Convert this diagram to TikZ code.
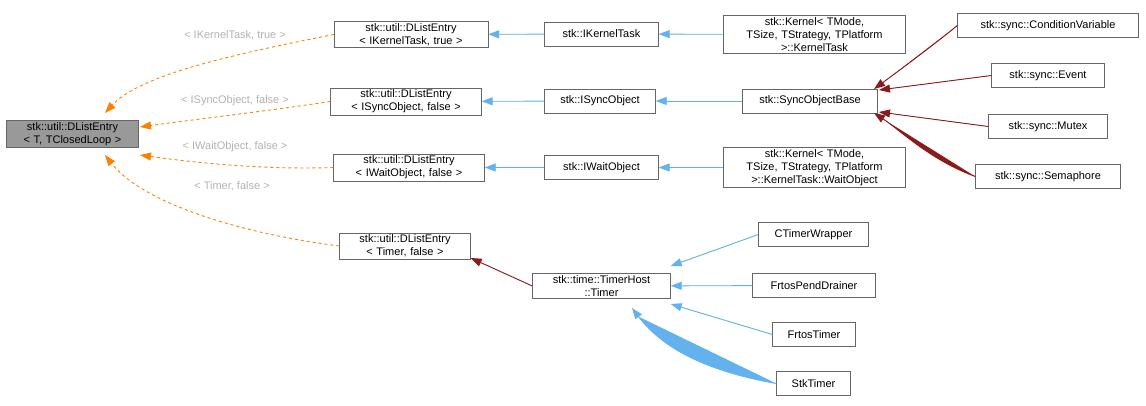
\documentclass[tikz,border=0pt]{standalone}
\usepackage{fontspec}
\setmainfont{Liberation Sans}
\usetikzlibrary{arrows.meta}
\begin{document}
\begin{tikzpicture}[x=1pt,y=-1pt,
  box/.style={draw=black!60,fill=white,inner sep=2pt,align=center,font=\fontsize{11}{13}\selectfont,minimum height=24pt},
  ah/.style={-{Triangle[length=11pt,width=8pt]}},
  blue/.style={draw={rgb,255:red,99;green,177;blue,237},fill={rgb,255:red,99;green,177;blue,237},ah,line width=0.9pt},
  red/.style={draw={rgb,255:red,139;green,26;blue,26},fill={rgb,255:red,139;green,26;blue,26},ah,line width=0.9pt},
  orng/.style={draw=orange,dashed,line width=0.9pt,-{Triangle[length=11pt,width=8pt,fill=orange]}},
  lbl/.style={text=black!30,font=\fontsize{11}{13}\selectfont}]
\useasboundingbox (0,0) rectangle (1146,405);
\node[box,fill=black!40,text width=128pt] (A) at (72.5,134) {stk::util::DListEntry\\\textless{} T, TClosedLoop \textgreater};
\node[box,text width=150pt] (B1) at (411,34.5) {stk::util::DListEntry\\\textless{} IKernelTask, true \textgreater};
\node[box,text width=147pt] (B2) at (406,101.5) {stk::util::DListEntry\\\textless{} ISyncObject, false \textgreater};
\node[box,text width=147pt] (B3) at (409,167.5) {stk::util::DListEntry\\\textless{} IWaitObject, false \textgreater};
\node[box,text width=127pt] (B4) at (405,246) {stk::util::DListEntry\\\textless{} Timer, false \textgreater};
\node[box,text width=110pt] (C1) at (601.5,34) {stk::IKernelTask};
\node[box,text width=107pt] (C2) at (600,101) {stk::ISyncObject};
\node[box,text width=110pt] (C3) at (601.5,167.5) {stk::IWaitObject};
\node[box,text width=134pt] (C4) at (601.5,286) {stk::time::TimerHost\\::Timer};
\node[box,text width=178pt] (D1) at (814.5,34.5) {stk::Kernel\textless{} TMode,\\ TSize, TStrategy, TPlatform\\ \textgreater::KernelTask};
\node[box,text width=131pt] (D2) at (810,101) {stk::SyncObjectBase};
\node[box,text width=178pt] (D3) at (814.5,167.5) {stk::Kernel\textless{} TMode,\\ TSize, TStrategy, TPlatform\\ \textgreater::KernelTask::WaitObject};
\node[box,text width=177pt] (E1) at (1048,25.5) {stk::sync::ConditionVariable};
\node[box,text width=109pt] (E2) at (1048,75.5) {stk::sync::Event};
\node[box,text width=115pt] (E3) at (1048,126.5) {stk::sync::Mutex};
\node[box,text width=141pt] (E4) at (1048,176.5) {stk::sync::Semaphore};
\node[box,text width=106pt] (F1) at (813.5,234.5) {CTimerWrapper};
\node[box,text width=119pt] (F2) at (814,285.5) {FrtosPendDrainer};
\node[box,text width=79pt] (F3) at (814,334.5) {FrtosTimer};
\node[box,text width=70pt] (F4) at (813.5,383.5) {StkTimer};
% orange
\draw[orng] (B1.west) .. controls (230,55) and (140,75) .. (105,113);
\draw[orng] (B2.west) .. controls (260,112) and (190,120) .. (140,127);
\draw[orng] (B3.west) .. controls (260,170) and (190,162) .. (140,155);
\draw[orng] (B4.west) .. controls (230,232) and (140,200) .. (105,155);
\node[lbl] at (235,35) {\textless{} IKernelTask, true \textgreater};
\node[lbl] at (235,101) {\textless{} ISyncObject, false \textgreater};
\node[lbl] at (235,147) {\textless{} IWaitObject, false \textgreater};
\node[lbl] at (232,186) {\textless{} Timer, false \textgreater};
% blue
\draw[blue] (C1) -- (B1);
\draw[blue] (C2) -- (B2);
\draw[blue] (C3) -- (B3);
\draw[blue] (D1) -- (C1);
\draw[blue] (D2) -- (C2);
\draw[blue] (D3) -- (C3);
\draw[blue] (F1.west) -- (C4.east |- 0,266);
\draw[blue] (F2) -- (C4);
\draw[blue] (F3.west) -- (C4.east |- 0,304);
\draw[blue] (F4.west) .. controls (700,370) and (660,345) .. (632,308);
% red
\draw[red] (C4.west) -- (B4.east |- 0,258);
\draw[red] (E1.west) .. controls (940,40) and (900,70) .. (874,89);
\draw[red] (E2.west) -- (879,90);
\draw[red] (E3.west) -- (879,112);
\draw[red] (E4.west) .. controls (930,160) and (900,130) .. (874,113);
\end{tikzpicture}
\end{document}
